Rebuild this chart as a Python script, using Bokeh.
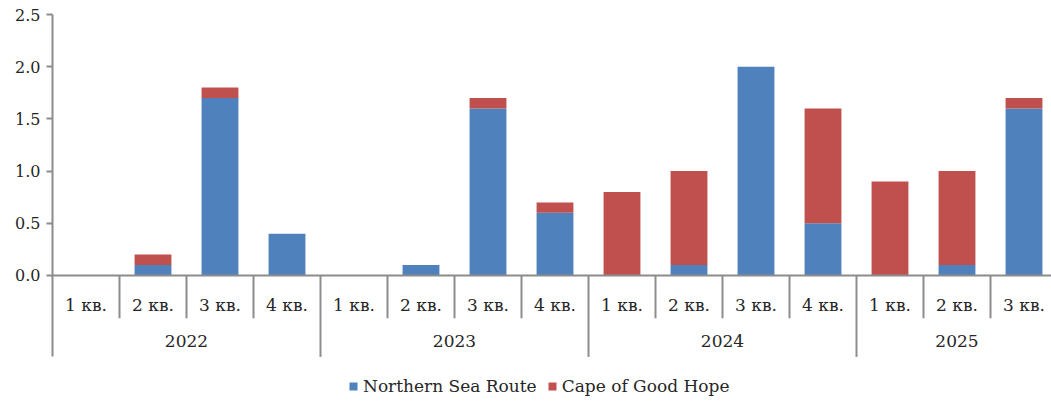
from bokeh.plotting import figure
from bokeh.models import Range1d, FixedTicker, Span, Legend, LegendItem, ColumnDataSource, CustomJSTickFormatter
from bokeh.core.properties import value
from bokeh.embed import file_html
from bokeh.resources import INLINE

years = ["2022", "2022", "2022", "2022",
         "2023", "2023", "2023", "2023",
         "2024", "2024", "2024", "2024",
         "2025", "2025", "2025"]
quarters = ["1 кв.", "2 кв.", "3 кв.", "4 кв.",
            "1 кв.", "2 кв.", "3 кв.", "4 кв.",
            "1 кв.", "2 кв.", "3 кв.", "4 кв.",
            "1 кв.", "2 кв.", "3 кв."]
northern_sea_route = [0.0, 0.1, 1.7, 0.4,
                      0.0, 0.1, 1.6, 0.6,
                      0.0, 0.1, 2.0, 0.5,
                      0.0, 0.1, 1.6]
cape_of_good_hope = [0.0, 0.1, 0.1, 0.0,
                     0.0, 0.0, 0.1, 0.1,
                     0.8, 0.9, 0.0, 1.1,
                     0.9, 0.9, 0.1]
series_names = ["Northern Sea Route", "Cape of Good Hope"]
y_ticks = [0.0, 0.5, 1.0, 1.5, 2.0, 2.5]

BLUE = "#4F81BD"
RED = "#C0504D"
AXIS = "#8c8c8c"
TEXT = "#262626"
FONT = "DejaVu Serif"
FS = "17px"

n = len(quarters)
xs = [i + 0.5 for i in range(n)]
src = ColumnDataSource(dict(x=xs, nsr=northern_sea_route, cape=cape_of_good_hope))

p = figure(width=1051, height=404, output_backend="svg", toolbar_location=None,
           x_range=Range1d(0, 999 / 67), y_range=Range1d(-1.236, 2.5),
           x_axis_location=None, min_border_left=52, min_border_right=0,
           min_border_top=14, min_border_bottom=0)
p.outline_line_color = None
p.xgrid.visible = False
p.ygrid.visible = False

rs = p.vbar_stack(["nsr", "cape"], x="x", width=0.55, source=src,
                  color=[BLUE, RED], line_color=None)

ax = p.yaxis[0]
ax.ticker = FixedTicker(ticks=y_ticks)
ax.formatter = CustomJSTickFormatter(code="return tick.toFixed(1);")
ax.bounds = (-0.78, 2.5)
ax.axis_line_color = AXIS
ax.axis_line_width = 2
ax.major_tick_line_color = AXIS
ax.major_tick_line_width = 2
ax.major_tick_out = 6
ax.major_tick_in = 0
ax.minor_tick_line_color = None
ax.major_label_text_font = FONT
ax.major_label_text_font_size = "16px"
ax.major_label_text_color = TEXT
ax.major_label_standoff = 6

p.add_layout(Span(location=0, dimension="width", line_color=AXIS, line_width=2))

# separators between categories
sx, sy = [], []
for i in range(1, n):
    sx.append(i)
    sy.append(-0.78 if years[i] != years[i - 1] else -0.41)
p.segment(x0=sx, y0=[0] * len(sx), x1=sx, y1=sy, line_color=AXIS, line_width=2)

# quarter labels
p.text(x=xs, y=[-0.28] * n, text=quarters, text_align="center", text_baseline="middle",
       text_font=value(FONT), text_font_size=FS, text_color=TEXT)

# year labels
uniq = []
for y in years:
    if y not in uniq:
        uniq.append(y)
ycx = []
for y in uniq:
    idx = [i for i in range(n) if years[i] == y]
    ycx.append((idx[0] + idx[-1] + 1) / 2)
p.text(x=ycx, y=[-0.63] * len(uniq), text=uniq, text_align="center", text_baseline="middle",
       text_font=value(FONT), text_font_size=FS, text_color=TEXT)

legend = Legend(items=[LegendItem(label=series_names[0], renderers=[rs[0]]),
                       LegendItem(label=series_names[1], renderers=[rs[1]])],
                location=(296, 8), orientation="horizontal",
                border_line_color=None, background_fill_alpha=0,
                glyph_width=10, glyph_height=10, label_standoff=5, spacing=10,
                padding=0, margin=0,
                label_text_font=FONT, label_text_font_size=FS, label_text_color=TEXT)
p.add_layout(legend)

open("out.html", "w").write(file_html(p, INLINE))
